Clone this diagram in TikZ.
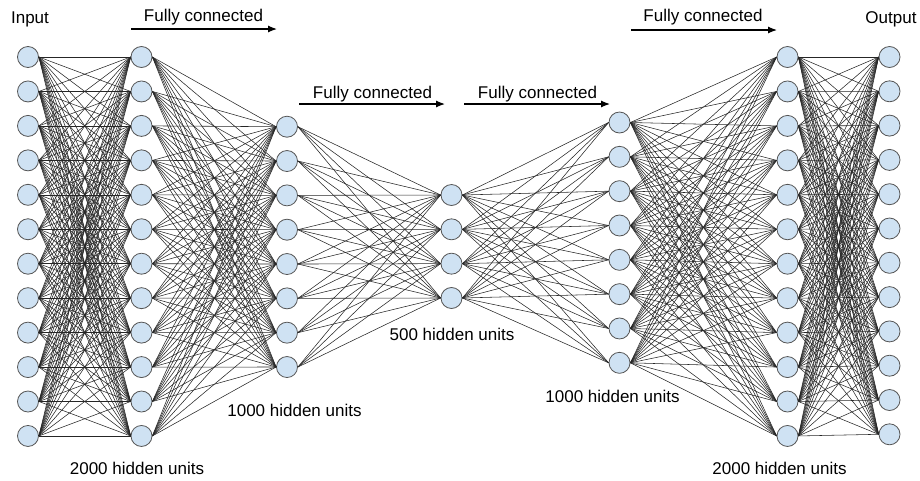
\documentclass[tikz,border=0pt]{standalone}
\usepackage{fontspec}
\setmainfont{Liberation Sans}
\usetikzlibrary{arrows.meta}
\definecolor{nodefill}{HTML}{CFE2F3}
\definecolor{nodeline}{HTML}{555555}
\begin{document}
\begin{tikzpicture}[x=1pt,y=-1pt,
  neuron/.style={circle,draw=nodeline,fill=nodefill,line width=0.8pt,minimum size=21pt,inner sep=0pt},
  conn/.style={line width=0.55pt,draw=black!85},
  lbl/.style={anchor=base,font=\fontsize{17}{20}\selectfont,inner sep=0pt},
  flow/.style={-{Latex[length=9pt,width=7pt]},line width=1.2pt}]
\useasboundingbox (0,0) rectangle (920,480);
% layers
\foreach \i in {1,...,12} {
  \node[neuron] (a\i) at (28,{57+(\i-1)*34.45}) {};
  \node[neuron] (b\i) at (141.5,{57+(\i-1)*34.45}) {};
  \node[neuron] (f\i) at (787.5,{57+(\i-1)*34.45}) {};
  \node[neuron] (g\i) at (889.5,{57+(\i-1)*34.3}) {};
}
\foreach \i in {1,...,8} {
  \node[neuron] (c\i) at (287,{126.7+(\i-1)*34.33}) {};
  \node[neuron] (e\i) at (619.5,{122.5+(\i-1)*34.33}) {};
}
\foreach \i in {1,...,4} {
  \node[neuron] (d\i) at (451.5,{195+(\i-1)*34.33}) {};
}
% connections
\foreach \i in {1,...,12} \foreach \j in {1,...,12} {
  \draw[conn] (a\i.east) -- (b\j.west);
  \draw[conn] (f\i.east) -- (g\j.west);
}
\foreach \i in {1,...,12} \foreach \j in {1,...,8} {
  \draw[conn] (b\i.east) -- (c\j.west);
  \draw[conn] (e\j.east) -- (f\i.west);
}
\foreach \i in {1,...,8} \foreach \j in {1,...,4} {
  \draw[conn] (c\i.east) -- (d\j.west);
  \draw[conn] (d\j.east) -- (e\i.west);
}
% labels
\node[lbl] (tin) at (30,23) {Input};
\node[lbl] (tout) at (891,23) {Output};
\node[lbl] (fc1) at (203.5,21) {Fully connected};
\node[lbl] (fc2) at (372.5,98) {Fully connected};
\node[lbl] (fc3) at (537.5,98) {Fully connected};
\node[lbl] (fc4) at (703,21) {Fully connected};
\node[lbl] (h1) at (294.5,416) {1000 hidden units};
\node[lbl] (h2) at (452,340) {500 hidden units};
\node[lbl] (h3) at (612.5,402) {1000 hidden units};
\node[lbl] (h4) at (137,474) {2000 hidden units};
\node[lbl] (h5) at (779.5,474) {2000 hidden units};
% arrows
\coordinate (s1) at (131,29);  \coordinate (t1) at (277,29);
\coordinate (s2) at (299,104); \coordinate (t2) at (445,104);
\coordinate (s3) at (464,104); \coordinate (t3) at (610,104);
\coordinate (s4) at (631,30);  \coordinate (t4) at (777,30);
\draw[flow] (s1) -- (t1);
\draw[flow] (s2) -- (t2);
\draw[flow] (s3) -- (t3);
\draw[flow] (s4) -- (t4);
\end{tikzpicture}
\end{document}
